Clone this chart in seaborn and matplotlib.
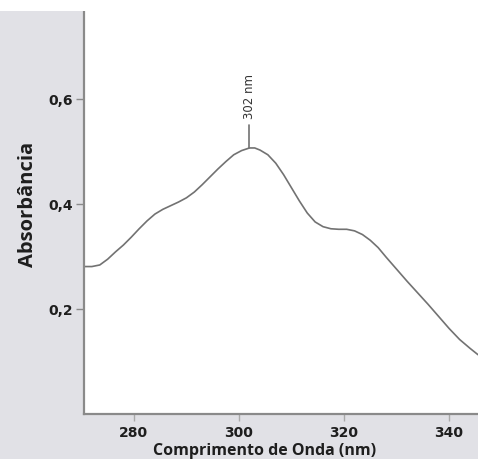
import matplotlib
matplotlib.use("Agg")
import matplotlib.pyplot as plt
from matplotlib.patches import Rectangle
import seaborn as sns
import pandas as pd

# UV absorption spectrum
wavelength_nm = [270.5, 272.0, 273.5, 275.0, 276.5, 278.0, 279.5, 281.0, 282.5,
                 284.0, 285.5, 287.0, 288.5, 290.0, 291.5, 293.0, 294.5, 296.0,
                 297.5, 299.0, 300.5, 302.0, 303.0, 304.0, 305.5, 307.0, 308.5,
                 310.0, 311.5, 313.0, 314.5, 316.0, 317.5, 319.0, 320.5, 322.0,
                 323.5, 325.0, 326.5, 328.0, 330.0, 332.0, 334.0, 336.0, 338.0,
                 340.0, 342.0, 344.0, 345.5]
absorbance = [0.281, 0.281, 0.284, 0.295, 0.309, 0.322, 0.337, 0.353, 0.368,
              0.381, 0.390, 0.397, 0.404, 0.412, 0.423, 0.437, 0.452, 0.467,
              0.481, 0.494, 0.502, 0.507, 0.507, 0.503, 0.494, 0.478, 0.456,
              0.431, 0.406, 0.383, 0.366, 0.357, 0.353, 0.352, 0.352, 0.349,
              0.342, 0.331, 0.317, 0.299, 0.276, 0.253, 0.231, 0.209, 0.186,
              0.163, 0.142, 0.125, 0.113]

peak_nm = 302.0
peak_abs = 0.507
peak_label = "302 nm"

x_ticks = [280, 300, 320, 340]
y_ticks = [0.2, 0.4, 0.6]
y_tick_labels = ["0,2", "0,4", "0,6"]

df = pd.DataFrame({"nm": wavelength_nm, "abs": absorbance})

sns.set_style("ticks")
plt.rcParams["font.family"] = ["DejaVu Sans"]

BG = "#e1e1e6"
SPINE = "#8a8a8a"
LINE = "#727272"

fig = plt.figure(figsize=(4.78, 4.59), dpi=100, facecolor=BG)
# white strip along the top edge
fig.patches.append(Rectangle((0, 1 - 11 / 459), 1, 11 / 459, transform=fig.transFigure,
                             facecolor="white", edgecolor="none", zorder=0))
ax = fig.add_axes([84 / 478, 45 / 459, 394 / 478, 403 / 459])
ax.set_facecolor("white")

sns.lineplot(data=df, x="nm", y="abs", ax=ax, color=LINE, linewidth=1.2)

# peak marker and label
ax.plot([peak_nm, peak_nm], [peak_abs, peak_abs + 0.043], color=LINE, linewidth=1.2)
ax.text(peak_nm, peak_abs + 0.055, peak_label, rotation=90, ha="center", va="bottom",
        fontsize=8.5, color="#333333")

ax.set_xlim(270.5, 345.5)
ax.set_ylim(0.0, 0.768)
ax.set_xticks(x_ticks)
ax.set_xticklabels([str(t) for t in x_ticks], fontsize=10, fontweight="bold", color="#1e1e1e")
ax.set_yticks(y_ticks)
ax.set_yticklabels(y_tick_labels, fontsize=10, fontweight="bold", color="#1e1e1e")

ax.tick_params(axis="y", direction="out", length=6, width=1.0, color=SPINE, pad=2)
ax.tick_params(axis="x", direction="out", length=5, width=1.0, color="#aaaaaa", pad=3.5)

for side in ("top", "right"):
    ax.spines[side].set_visible(False)
for side in ("left", "bottom"):
    ax.spines[side].set_color(SPINE)
    ax.spines[side].set_linewidth(1.6)

ax.set_xlabel("Comprimento de Onda (nm)", family=["Open Sans", "DejaVu Sans"],
              fontweight="bold", fontsize=11.5, color="#1e1e1e")
ax.xaxis.set_label_coords((265 - 84) / 394, -0.072)
ax.set_ylabel("Absorbância", family=["Open Sans", "DejaVu Sans"],
              fontweight="bold", fontsize=14.5, color="#1e1e1e")
ax.yaxis.set_label_coords((38 - 84) / 394, 0.52)

fig.savefig("out.png", dpi=100, facecolor=BG)
